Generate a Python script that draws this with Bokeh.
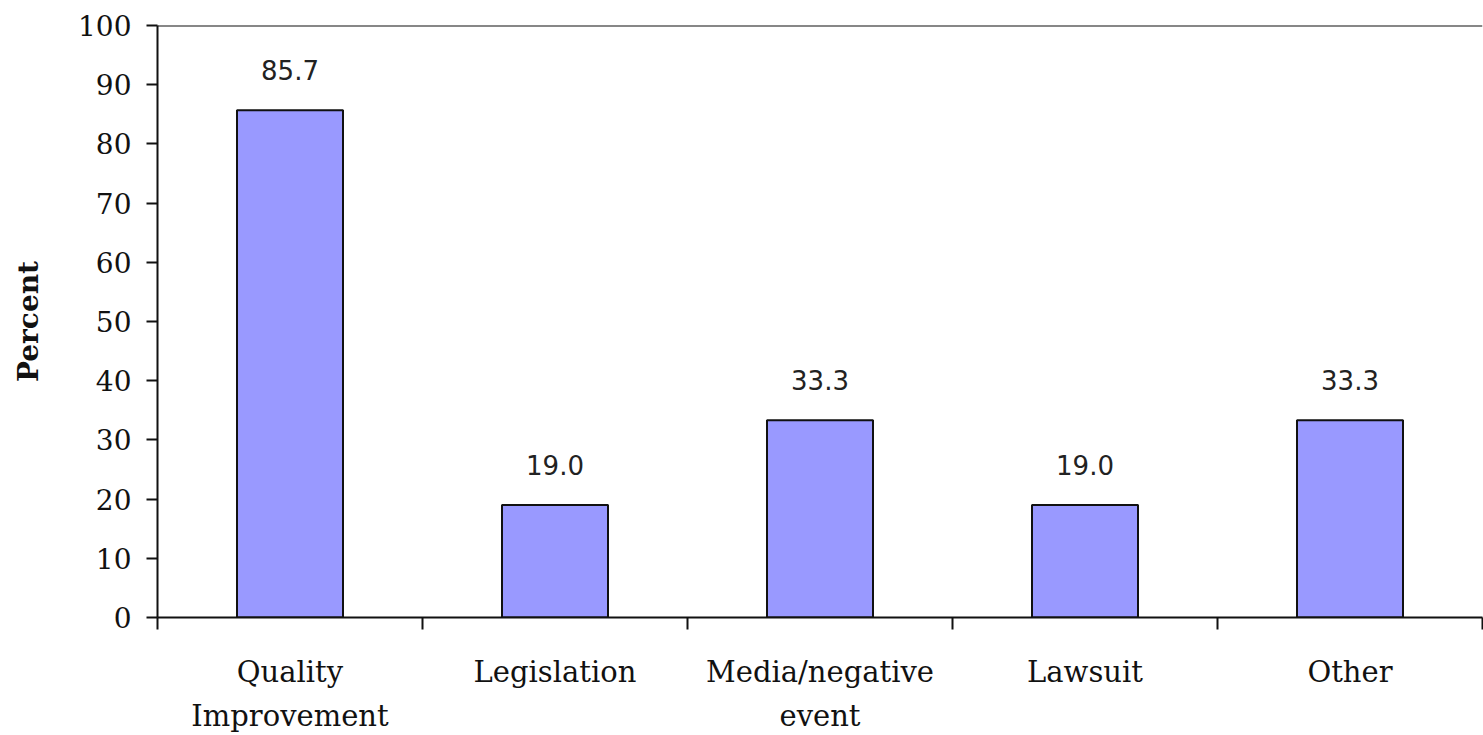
from bokeh.plotting import figure
from bokeh.models import Range1d, FixedTicker, Span, ColumnDataSource
from bokeh.core.properties import value
from bokeh.embed import file_html
from bokeh.resources import INLINE

# Reasons for starting the programme (percent of respondents)
categories = ["Quality\nImprovement", "Legislation", "Media/negative\nevent", "Lawsuit", "Other"]
percents = [85.7, 19.0, 33.3, 19.0, 33.3]
y_ticks = list(range(0, 101, 10))

SERIF = "DejaVu Serif"
SANS = "DejaVu Sans"

# one unit-wide slot per category; bars sit in the middle of their slot
slot_centers = [i + 0.5 for i in range(len(categories))]
slot_edges = list(range(len(categories) + 1))

source = ColumnDataSource(dict(
    x=slot_centers,
    pct=percents,
    txt=[f"{v:.1f}" for v in percents],
))

p = figure(
    width=1483, height=735,
    x_range=Range1d(0, len(categories)),
    y_range=Range1d(0, 100),
    output_backend="svg",
    toolbar_location=None,
)
p.min_border_left = 157
p.min_border_right = 1
p.min_border_top = 25
p.min_border_bottom = 117
p.outline_line_color = None
p.background_fill_color = "white"
p.border_fill_color = "white"
p.xgrid.visible = False
p.ygrid.visible = False

# bars
p.vbar(x="x", top="pct", width=0.4, source=source,
       fill_color="#9999FF", line_color="#111111", line_width=2)

# value labels above bars
p.text(x="x", y="pct", text="txt", source=source,
       text_font=value(SANS), text_font_size="26px", text_color="#222222",
       text_align="center", text_baseline="middle", y_offset=-40)

# y axis
ya = p.yaxis[0]
ya.ticker = FixedTicker(ticks=y_ticks)
ya.axis_label = "Percent"
ya.axis_label_text_font = SERIF
ya.axis_label_text_font_style = "bold"
ya.axis_label_text_font_size = "28px"
ya.axis_label_text_color = "#111111"
ya.axis_label_standoff = 30
ya.major_label_text_font = SERIF
ya.major_label_text_font_size = "28px"
ya.major_label_text_color = "#111111"
ya.major_label_standoff = 15
ya.major_tick_in = 0
ya.major_tick_out = 11
ya.major_tick_line_width = 2
ya.major_tick_line_color = "#111111"
ya.minor_tick_line_color = None
ya.axis_line_width = 2
ya.axis_line_color = "#111111"

# x axis: names under slot centres, tick marks on slot edges
xa = p.xaxis[0]
xa.ticker = FixedTicker(ticks=slot_centers, minor_ticks=slot_edges)
xa.major_label_overrides = {c: name for c, name in zip(slot_centers, categories)}
xa.major_tick_line_color = None
xa.minor_tick_in = 0
xa.minor_tick_out = 12
xa.minor_tick_line_width = 2
xa.minor_tick_line_color = "#111111"
xa.axis_line_width = 2
xa.axis_line_color = "#111111"
xa.major_label_text_font = SERIF
xa.major_label_text_font_size = "29px"
xa.major_label_text_color = "#111111"
xa.major_label_text_line_height = 1.3
xa.major_label_standoff = 25

# top frame line
p.add_layout(Span(location=100, dimension="width", line_color="#111111", line_width=2))

open("out.html", "w").write(file_html(p, INLINE))
